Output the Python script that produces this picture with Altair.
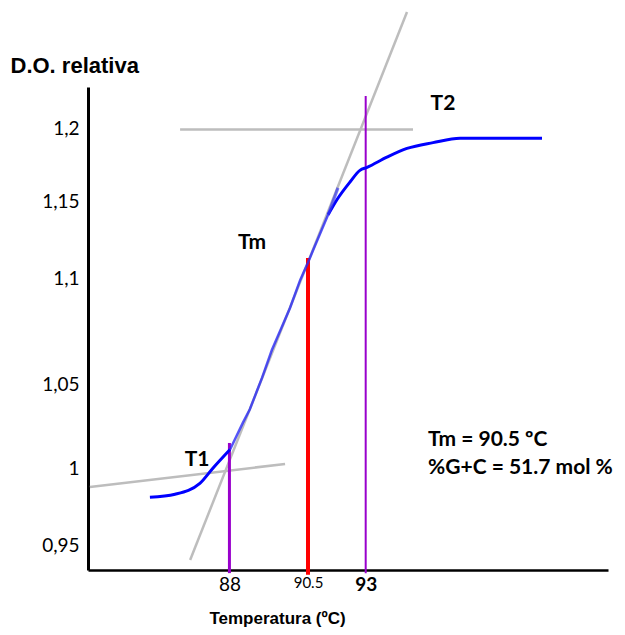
import altair as alt
import pandas as pd

# ---- data ----
# melting curve: temperature (ºC) and relative optical density
curve_temp = [85.47, 86.27, 87.06, 87.48, 88.02, 88.43, 88.65, 89.04, 89.35, 89.67,
              89.93, 90.25, 90.50, 90.72, 91.37, 91.76, 92.32, 92.75, 93.06, 93.92,
              94.79, 95.92, 97.09, 100.64]
curve_do = [0.981, 0.983, 0.990, 1.000, 1.011, 1.027, 1.035, 1.053, 1.066, 1.077,
            1.086, 1.099, 1.110, 1.118, 1.141, 1.151, 1.163, 1.171, 1.173, 1.180,
            1.186, 1.190, 1.193, 1.193]
steep_from, steep_to = 4, 14          # indices of the steep (tangent) stretch

stub_temp = [91.37, 91.80]
stub_do = [1.141, 1.159]

# gray construction lines
tangent_temp = [86.75, 94.79]
tangent_do = [0.9404, 1.2792]
base1_temp = [83.56, 89.77]
base1_do = [0.9877, 1.0024]
base2_temp = [86.43, 95.05]
base2_do = [1.199, 1.199]

# vertical markers: T1, Tm, T2
t1_temp, t1_low, t1_high = 88.0, 0.932, 1.0149
tm_temp, tm_low, tm_high = 90.5, 0.931, 1.113
t2_temp, t2_low, t2_high = 93.0, 0.932, 1.2219

# text labels
label_text = ["T1", "Tm", "T2"]
label_temp = [86.97, 88.72, 96.35]
label_do = [1.0048, 1.1227, 1.2164]

note_text = ["Tm = 90.5 ºC", "%G+C = 51.7 mol %"]
note_temp = [95.7, 95.7]
note_do = [1.0167, 1.0]

x_ticks = [88, 90.5, 93]
y_ticks = [0.95, 1.0, 1.05, 1.1, 1.15, 1.2]

# ---- scales / axes ----
x_scale = alt.Scale(domain=[83.5, 90.5, 103.5], range=[0, 220, 520], nice=False, zero=False)
y_scale = alt.Scale(domain=[0.934, 0.95, 1.0, 1.05, 1.1, 1.15, 1.2, 1.228],
                    range=[483, 458, 381, 297, 191, 114, 41, 0], nice=False, zero=False)

x_axis = alt.Axis(
    values=x_ticks, labelExpr="toString(datum.value)", ticks=False, tickSize=0, grid=False,
    domainColor="black", domainWidth=2.5, labelColor="black", labelFont="Lato",
    labelFontSize={"condition": {"test": "datum.value == 90.5", "value": 15}, "value": 19},
    labelFontWeight={"condition": {"test": "datum.value == 93", "value": "bold"}, "value": "normal"},
    labelPadding=5, labelOverlap=False, labelFlush=False,
    title="Temperatura (ºC)", titleFont="Liberation Sans", titleFontSize=17,
    titleFontWeight="bold", titleColor="black", titleX=189, titleY=48,
    titleAlign="center", titleBaseline="middle")

y_axis = alt.Axis(
    values=y_ticks, labelExpr="replace(toString(datum.value), '.', ',')", ticks=False,
    tickSize=0, grid=False, domainColor="black", domainWidth=3, labelColor="black",
    labelFont="Lato", labelFontSize=19, labelPadding=9, labelOverlap=False, labelFlush=False,
    title="D.O. relativa", titleFont="Liberation Sans", titleFontSize=22,
    titleFontWeight="bold", titleColor="black", titleAngle=0, titleAlign="left",
    titleBaseline="middle", titleX=-78, titleY=-22)


def X(field="T"):
    return alt.X(f"{field}:Q", scale=x_scale, axis=x_axis)


def Y(field="DO"):
    return alt.Y(f"{field}:Q", scale=y_scale, axis=y_axis)


def gray_line(ts, ds):
    df = pd.DataFrame({"T": ts, "DO": ds})
    return alt.Chart(df).mark_line(color="#BDBDBD", strokeWidth=2.5).encode(x=X(), y=Y())


def vrule(t, lo, hi, color, width):
    df = pd.DataFrame({"T": [t], "lo": [lo], "hi": [hi]})
    return alt.Chart(df).mark_rule(color=color, strokeWidth=width).encode(
        x=X(), y=Y("lo"), y2="hi:Q")


curve = pd.DataFrame({"T": curve_temp, "DO": curve_do})
low = curve.iloc[: steep_from + 1]
steep = curve.iloc[steep_from: steep_to + 1]
high = curve.iloc[steep_to:]

layers = [
    gray_line(base1_temp, base1_do),
    gray_line(base2_temp, base2_do),
    gray_line(tangent_temp, tangent_do),
    vrule(t1_temp, t1_low, t1_high, "#9900CC", 3),
    vrule(tm_temp, tm_low, tm_high, "#FF0000", 4),
    vrule(t2_temp, t2_low, t2_high, "#9900CC", 2),
    alt.Chart(low).mark_line(color="#0000FF", strokeWidth=3, interpolate="monotone").encode(x=X(), y=Y()),
    alt.Chart(steep).mark_line(color="#2B2BF5", strokeWidth=2.5, opacity=0.8).encode(x=X(), y=Y()),
    alt.Chart(high).mark_line(color="#0000FF", strokeWidth=3, interpolate="monotone").encode(x=X(), y=Y()),
    alt.Chart(pd.DataFrame({"T": stub_temp, "DO": stub_do})).mark_line(
        color="#3A3AF0", strokeWidth=3, opacity=0.7).encode(x=X(), y=Y()),
    alt.Chart(pd.DataFrame({"t": label_text, "T": label_temp, "DO": label_do})).mark_text(
        font="Lato", fontSize=21, fontWeight="bold", color="black",
        align="center", baseline="middle").encode(x=X(), y=Y(), text="t:N"),
    alt.Chart(pd.DataFrame({"t": note_text, "T": note_temp, "DO": note_do})).mark_text(
        font="Lato", fontSize=21, fontWeight="bold", color="black",
        align="left", baseline="middle").encode(x=X(), y=Y(), text="t:N"),
]

chart = alt.layer(*layers).properties(
    width=520, height=483,
    autosize=alt.AutoSizeParams(type="none"),
    padding={"left": 80, "top": 79, "right": 9, "bottom": 57},
    background="white",
).configure_view(stroke=None)

chart.save("out.html", embed_options={"renderer": "svg", "actions": False})
